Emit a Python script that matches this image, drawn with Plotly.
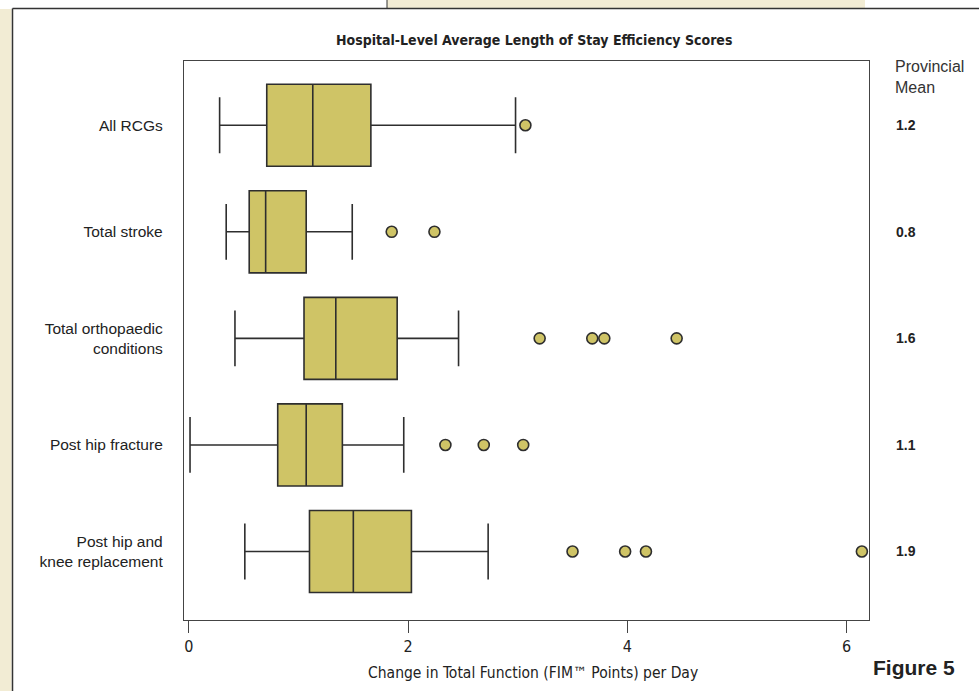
import plotly.graph_objects as go

categories = ["All RCGs", "Total stroke", "Total orthopaedic<br>conditions",
              "Post hip fracture", "Post hip and<br>knee replacement"]
lower_whisker = [0.28, 0.34, 0.42, 0.01, 0.51]
q1_vals = [0.71, 0.55, 1.05, 0.81, 1.10]
median_vals = [1.13, 0.70, 1.34, 1.07, 1.50]
q3_vals = [1.66, 1.07, 1.90, 1.40, 2.03]
upper_whisker = [2.98, 1.49, 2.46, 1.96, 2.73]
outliers = [
    [3.07],
    [1.85, 2.24],
    [3.20, 3.68, 3.79, 4.45],
    [2.34, 2.69, 3.05],
    [3.50, 3.98, 4.17, 6.14],
]
provincial_mean = ["1.2", "0.8", "1.6", "1.1", "1.9"]
x_ticks = [0, 2, 4, 6]

W, H = 979, 691
ML, MR, MT, MB = 184, 110, 61, 71
PW, PH = W - ML - MR, H - MT - MB

def px(x):
    return (x - ML) / PW

def py(y):
    return (H - MB - y) / PH

FILL = "#CFC466"
LINE = "#2e2e2e"
NARROW = "Liberation Sans Narrow, DejaVu Sans Condensed, Arial Narrow, sans-serif"
SANS = "Liberation Sans, Arial, sans-serif"

fig = go.Figure()
fig.add_trace(go.Box(
    orientation="h",
    y=categories,
    q1=q1_vals, median=median_vals, q3=q3_vals,
    lowerfence=lower_whisker, upperfence=upper_whisker,
    fillcolor=FILL,
    line=dict(color=LINE, width=1.6),
    width=0.77,
    whiskerwidth=0.68,
    boxpoints=False,
    showlegend=False,
    hoverinfo="skip",
))

ox, oy = [], []
for cat, vals in zip(categories, outliers):
    for v in vals:
        ox.append(v)
        oy.append(cat)
fig.add_trace(go.Scatter(
    x=ox, y=oy, mode="markers",
    marker=dict(size=11, color=FILL, line=dict(color=LINE, width=1.6)),
    showlegend=False, hoverinfo="skip",
))

annotations = []
for cat, m in zip(categories, provincial_mean):
    annotations.append(dict(
        x=px(894), xref="paper", y=cat, yref="y", text="<b>%s</b>" % m,
        showarrow=False, xanchor="left", yanchor="middle",
        font=dict(family=SANS, size=14, color="#222"),
    ))
annotations.append(dict(
    x=px(893), xref="paper", y=py(77), yref="paper", text="Provincial<br>Mean",
    showarrow=False, xanchor="left", yanchor="middle", align="left",
    font=dict(family=SANS, size=16, color="#333"),
))
annotations.append(dict(
    x=px(533), xref="paper", y=py(673), yref="paper",
    text="Change in Total Function (FIM™ Points) per Day",
    showarrow=False, xanchor="center", yanchor="middle",
    font=dict(family=NARROW, size=15.5, color="#222"),
))
annotations.append(dict(
    x=px(914), xref="paper", y=py(668), yref="paper",
    text="<b>Figure 5</b>",
    showarrow=False, xanchor="center", yanchor="middle",
    font=dict(family=SANS, size=21, color="#222"),
))
annotations.append(dict(
    x=px(534), xref="paper", y=py(40), yref="paper",
    text="<b>Hospital-Level Average Length of Stay Efficiency Scores</b>",
    showarrow=False, xanchor="center", yanchor="middle",
    font=dict(family=NARROW, size=14, color="#222"),
))

shapes = [
    dict(type="rect", xref="paper", yref="paper", x0=px(0), x1=px(11.5),
         y0=py(691), y1=py(9), fillcolor="#F2ECD4", line=dict(width=0), layer="below"),
    dict(type="rect", xref="paper", yref="paper", x0=px(387), x1=px(865),
         y0=py(8), y1=py(0), fillcolor="#F2ECD4", line=dict(width=0), layer="below"),
    dict(type="line", xref="paper", yref="paper", x0=px(12.5), x1=px(979),
         y0=py(8.5), y1=py(8.5), line=dict(color="#333", width=1.5)),
    dict(type="line", xref="paper", yref="paper", x0=px(12.5), x1=px(12.5),
         y0=py(8.5), y1=py(691), line=dict(color="#333", width=1.5)),
    dict(type="line", xref="paper", yref="paper", x0=px(387), x1=px(387),
         y0=py(0), y1=py(8.5), line=dict(color="#333", width=1)),
]

fig.update_layout(
    width=W, height=H,
    margin=dict(l=ML, r=MR, t=MT, b=MB, autoexpand=False),
    paper_bgcolor="white", plot_bgcolor="white",
    annotations=annotations, shapes=shapes,
    xaxis=dict(
        range=[-0.045, 6.205], tickvals=x_ticks, ticktext=[str(t) for t in x_ticks],
        showgrid=False, zeroline=False,
        showline=True, mirror=True, linecolor="#444", linewidth=1.3,
        ticks="outside", ticklen=12, tickwidth=1.2, tickcolor="#444",
        tickfont=dict(family=NARROW, size=16, color="#222"),
    ),
    yaxis=dict(
        type="category", categoryorder="array", categoryarray=categories,
        range=[4.643, -0.603],
        showgrid=False, zeroline=False,
        showline=True, mirror=True, linecolor="#444", linewidth=1.3,
        ticks="", ticklabelstandoff=17,
        tickfont=dict(family=SANS, size=15.5, color="#222"),
    ),
)

fig.write_html("out.html", config={"displayModeBar": False},
               post_script="document.body.style.margin='0';document.body.style.overflow='hidden';")
